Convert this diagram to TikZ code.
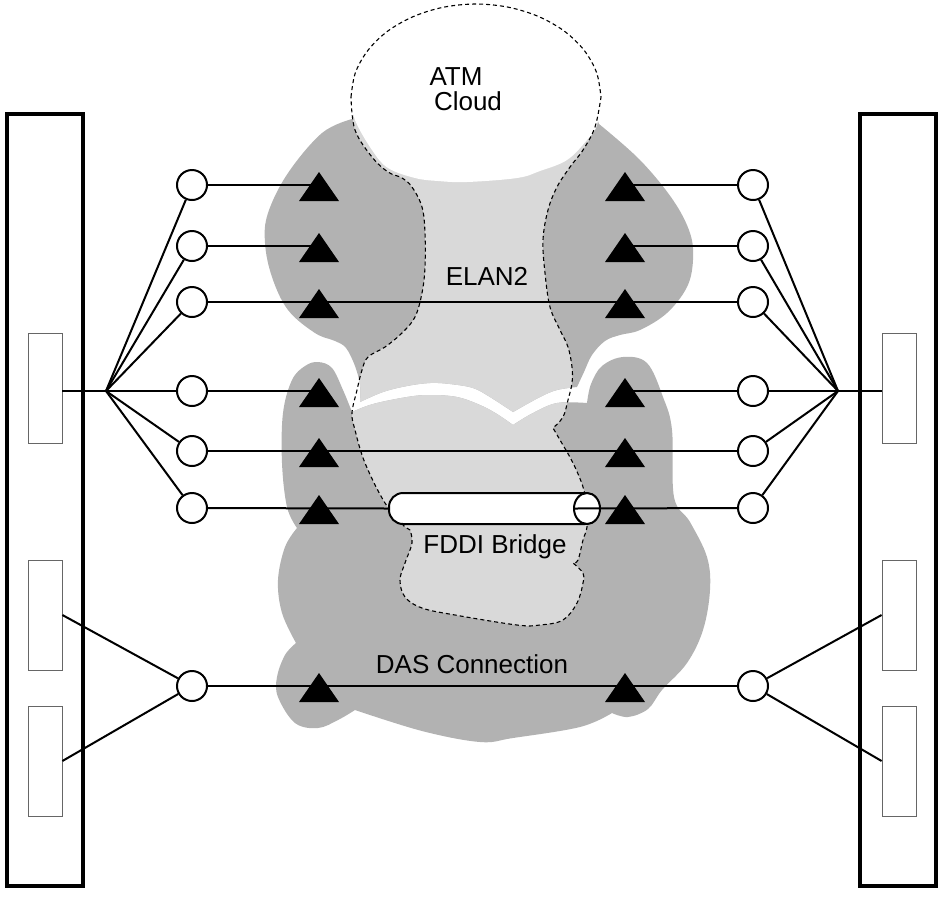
\documentclass[tikz,border=0pt]{standalone}
\usepackage{fontspec}
\setmainfont{Liberation Sans}
\usetikzlibrary{calc}

\definecolor{lanfill}{gray}{0.70}
\definecolor{atmfill}{gray}{0.85}

\tikzset{
  rack/.style={draw, line width=3.5pt, fill=white, minimum width=76pt, minimum height=772pt, inner sep=0},
  port/.style={draw=black!60, line width=0.8pt, fill=white, minimum width=34pt, minimum height=110pt, inner sep=0},
  station/.style={circle, draw, line width=2pt, fill=white, minimum size=30pt, inner sep=0},
  link/.style={line width=2pt},
  bridgebox/.style={draw, line width=2pt, fill=white, rounded corners=14pt, minimum width=210pt, minimum height=31pt, inner sep=0},
  cloudline/.style={line width=1.1pt, dash pattern=on 4pt off 3pt},
  lbl/.style={font=\fontsize{26}{30}\selectfont, inner sep=0, anchor=base},
  lec/.pic={\fill (-20,16) -- (0,-13) -- (20,16) -- cycle;},
}

% top arc of the ATM cloud
\def\cloudtop{plot[smooth, tension=0.55] coordinates {(351,97) (355.3,72.9) (367.8,50.5) (387.6,31.2) (413.5,16.5) (443.6,7.2) (476,4) (508.4,7.2) (538.5,16.5) (564.4,31.2) (584.3,50.5) (596.7,72.9) (601,97)}}
% outlines of the shaded areas
\def\elanpath{(352,119) -- (376,62) -- (576,62) -- (599,124)
  -- plot[smooth, tension=0.6] coordinates {(599,124) (640,160) (673,200) (690,233) (693,260) (687,287) (667,313) (640,330) (620,335) (605,341) (592,355) (584,372) (577,387)}
  -- plot[smooth, tension=0.6] coordinates {(577,387) (557,390) (540,397) (513,412)}
  -- plot[smooth, tension=0.6] coordinates {(513,412) (490,397) (473,388) (450,384) (430,383) (407,386) (383,392) (360,402)}
  -- plot[smooth, tension=0.6] coordinates {(360,402) (360,385) (355,366) (346,348) (335,341) (315,333) (288,310) (272,277) (265,243) (268,213) (288,173) (322,133) (352,119)} -- cycle}
\def\daspath{plot[smooth, tension=0.6] coordinates {(352,412) (373,404) (407,397) (430,395) (457,397) (480,405) (497,414) (513,425)}
  -- plot[smooth, tension=0.6] coordinates {(513,425) (533,413) (557,403) (587,403)}
  -- plot[smooth, tension=0.6] coordinates {(587,403) (591,384) (602,366) (623,357) (647,363) (663,397) (672,430) (674,497) (690,522) (707,557) (710,590) (703,630) (687,663) (662,690) (648,709) (628,717) (612,713)}
  -- plot[smooth, tension=0.6] coordinates {(612,713) (580,727) (513,738) (480,742) (422,731) (355,710)}
  -- plot[smooth, tension=0.6] coordinates {(355,710) (338,720) (318,728) (295,723) (278,697) (277,677) (285,655) (296,643)}
  -- plot[smooth, tension=0.6] coordinates {(296,643) (282,613) (278,580) (285,547) (297,528)}
  -- plot[smooth, tension=0.6] coordinates {(297,528) (287,507) (282,463) (283,413) (292,380) (305,366) (318,362) (332,368) (343,390) (352,412)} -- cycle}
\def\atmpath{\cloudtop
  -- plot[smooth, tension=0.6] coordinates {(601,97) (595,127) (583,150) (570,167) (557,187) (548,210) (543,240) (545,273) (550,307) (560,330) (568,347) (572,367) (572,383) (568,400) (563,417) (553,428)}
  -- plot[smooth, tension=0.6] coordinates {(553,428) (560,440) (573,463) (583,487) (587,508) (587,527) (583,540) (578,560) (573,563)}
  -- plot[smooth, tension=0.6] coordinates {(573,563) (583,573) (583,583) (577,603) (563,620) (540,625) (517,625) (455,615) (422,608) (405,597) (400,580) (405,563) (412,543) (410,530)}
  -- (405,527)
  -- plot[smooth, tension=0.6] coordinates {(405,527) (385,503) (365,463) (355,430) (352,413) (357,390) (362,370) (368,357) (385,347) (402,333) (415,317) (422,293) (425,267) (425,233) (422,207) (412,187) (402,178) (388,172) (372,157) (355,130) (351,97)} -- cycle}

\begin{document}
\begin{tikzpicture}[x=1pt, y=-1pt]
  \useasboundingbox (0,0) rectangle (940,898);

  % racks and their ports
  \node[rack] (lrack) at (45,500) {};
  \node[rack] (rrack) at (898,500) {};
  \node[port] (lpa) at (45,388) {};
  \node[port] (lpb) at (45,615) {};
  \node[port] (lpc) at (45,761) {};
  \node[port] (rpa) at (899,388) {};
  \node[port] (rpb) at (899,615) {};
  \node[port] (rpc) at (899,761) {};

  % ELAN2 and DAS areas, ATM cloud
  \fill[lanfill] \elanpath;
  \fill[lanfill] \daspath;
  \begin{scope}
    \clip \atmpath;
    \fill[atmfill] \elanpath;
    \fill[atmfill] \daspath;
  \end{scope}
  \fill[white] \cloudtop
    -- plot[smooth, tension=0.6] coordinates {(601,97) (597,125) (587,140) (567,160) (540,171) (517,178) (467,182) (438,181) (415,178) (388,168) (372,150) (355,120) (351,97)} -- cycle;
  \draw[cloudline] \atmpath;

  % stations
  \foreach \n/\y in {1/185,2/246,3/302,4/391,5/451,6/508,d/686} {
    \node[station] (lc\n) at (192,\y) {};
    \node[station] (rc\n) at (753,\y) {};
    \coordinate (la\n) at (319,\y);
    \coordinate (ra\n) at (625,\y);
  }
  \node[bridgebox] (fddi) at (494,508.5) {};
  \coordinate (fddicap) at ($(fddi.east)+(-13,0)$);
  \draw[line width=2pt, fill=white] (fddicap) ellipse [x radius=13, y radius=15.5];
  \coordinate (fddiend) at ($(fddi.east)+(-26,0)$);
  \coordinate (lfan) at (106,391);
  \coordinate (rfan) at (838,391);

  % connectors
  \foreach \n in {1,...,6} {
    \draw[link] (lfan) -- (lc\n);
    \draw[link] (rfan) -- (rc\n);
  }
  \draw[link] (lfan) -- (lfan -| lpa.east);
  \draw[link] (rfan) -- (rfan -| rpa.west);
  \draw[link] (lcd) -- (lpb.east);
  \draw[link] (lcd) -- (lpc.east);
  \draw[link] (rcd) -- (rpb.west);
  \draw[link] (rcd) -- (rpc.west);
  \foreach \n in {1,2,4} {
    \draw[link] (lc\n) -- (la\n);
    \draw[link] (ra\n) -- (rc\n);
  }
  \draw[link] (lc3) -- (rc3);
  \draw[link] (lc5) -- (rc5);
  \draw[link] (lcd) -- (rcd);
  \draw[link] (lc6) -- (fddi.west);
  \draw[link] (fddiend) -- (rc6);

  \foreach \n in {1,2,3,4,5,6,d} {
    \pic at (la\n) {lec};
    \pic at (ra\n) {lec};
  }

  % labels
  \node[lbl] (atm) at (456,85) {ATM};
  \node[lbl] (cloud) at (468,110) {Cloud};
  \node[lbl] (elan) at (487,285) {ELAN2};
  \node[lbl] (bridge) at (495,553) {FDDI Bridge};
  \node[lbl] (das) at (472,673) {DAS Connection};
\end{tikzpicture}
\end{document}
